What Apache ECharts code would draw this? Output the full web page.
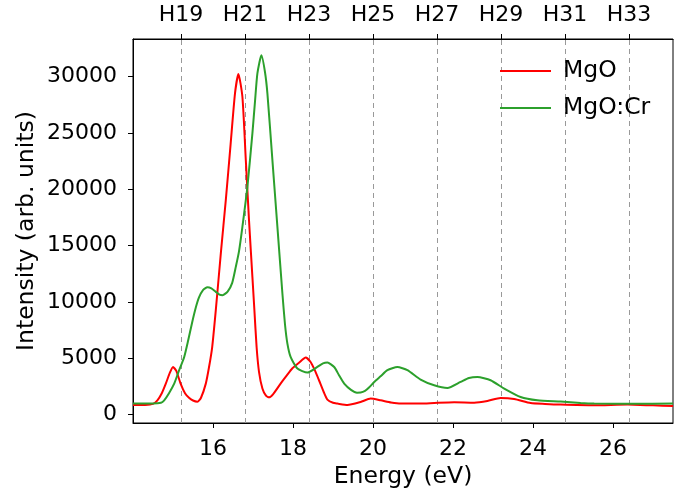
<!DOCTYPE html>
<html>
<head>
<meta charset="utf-8">
<script src="https://cdn.jsdelivr.net/npm/echarts@6/dist/echarts.min.js"></script>
<style>html,body{margin:0;padding:0;background:#fff}#c{width:690px;height:491px}</style>
</head>
<body>
<div id="c"></div>
<script>
// MgO (red)
var mgoE = [14.0,14.3,14.5,14.61,14.72,14.82,14.92,15.0,15.08,15.19,15.3,15.4,15.5,15.61,15.7,15.82,15.9,15.98,16.07,16.2,16.32,16.44,16.55,16.635,16.735,16.82,16.9,16.985,17.035,17.09,17.15,17.235,17.32,17.4,17.5,17.69,17.85,17.98,18.15,18.32,18.44,18.55,18.65,18.78,18.86,19.0,19.11,19.36,19.69,19.94,20.19,20.45,20.69,21.19,21.53,22.03,22.53,22.86,23.19,23.53,23.94,24.3,24.69,25.53,26.36,27.0,27.5];
var mgoI = [850,860,950,1270,1900,2750,3700,4230,3900,2750,1900,1500,1250,1150,1500,2750,4200,6000,9270,14500,19040,24000,28520,30240,28220,22600,17270,12230,9270,6000,3800,2310,1700,1530,1800,2750,3500,4090,4600,5060,4670,3900,3050,1900,1330,1050,980,850,1120,1420,1270,1080,980,980,1030,1090,1060,1210,1480,1390,1030,950,890,830,890,820,770];
// MgO:Cr (green)
var crE = [14.0,14.5,14.7,14.78,14.9,15.03,15.15,15.28,15.38,15.48,15.57,15.65,15.75,15.86,15.96,16.07,16.16,16.24,16.37,16.48,16.57,16.65,16.735,16.86,16.985,17.05,17.11,17.21,17.3,17.36,17.485,17.61,17.735,17.8,17.86,17.94,18.11,18.36,18.61,18.75,18.86,19.03,19.15,19.28,19.45,19.6,19.69,19.8,19.9,20.03,20.19,20.36,20.61,20.86,21.19,21.53,21.86,22.19,22.4,22.61,22.94,23.28,23.69,24.11,24.69,25.19,25.53,26.5,27.5];
var crI = [980,980,1050,1270,1900,2750,3900,5120,6600,8200,9500,10400,11050,11300,11200,10900,10650,10600,10950,11700,13120,14500,16670,20220,24970,27800,30300,31900,30400,28520,22600,16670,10750,8000,6300,5120,4090,3730,4230,4550,4620,4230,3500,2750,2200,1950,1960,2100,2400,2900,3400,3940,4230,3940,3110,2600,2360,2900,3250,3340,3050,2310,1560,1270,1155,1030,980,970,980];
// tick labels
var xTicks = [16,18,20,22,24,26];
var yTicks = [0,5000,10000,15000,20000,25000,30000];
var harmE = [15.2,16.8,18.4,20.0,21.6,23.2,24.8,26.4];
var harmLabels = ['H19','H21','H23','H25','H27','H29','H31','H33'];
var seriesNames = ['MgO','MgO:Cr'];

function pairs(xs, ys){ return xs.map(function(x,i){return [x, ys[i]];}); }
var FONT = 'DejaVu Sans';
var chart = echarts.init(document.getElementById('c'), null, {renderer:'canvas'});
chart.setOption({
  animation:false,
  backgroundColor:'#fff',
  grid:{left:133, right:17, top:39, bottom:68, show:true, borderColor:'#000', borderWidth:1, backgroundColor:'transparent', containLabel:false, outerBoundsMode:'none'},
  legend:{
    orient:'vertical', left:495, top:54, itemWidth:51, itemHeight:2, itemGap:13,
    icon:'rect',
    textStyle:{fontFamily:FONT, fontSize:23.5, color:'#000', padding:[0,0,0,7], lineHeight:24},
    data:seriesNames
  },
  xAxis:[{
    type:'value', min:14.0, max:27.5, position:'bottom',
    name:'Energy (eV)', nameLocation:'middle', nameGap:42, nameMoveOverlap:false,
    nameTextStyle:{fontFamily:FONT, fontSize:23.5, color:'#000'},
    axisLine:{show:true, onZero:false, lineStyle:{color:'#000', width:1}},
    axisTick:{show:true, inside:false, length:5, lineStyle:{color:'#000', width:1}, customValues:xTicks},
    axisLabel:{fontFamily:FONT, fontSize:22, color:'#000', margin:15, customValues:xTicks, formatter:function(v){return String(v);}},
    splitLine:{show:false}
  },{
    type:'value', min:14.0, max:27.5, position:'top',
    axisLine:{show:true, onZero:false, lineStyle:{color:'#000', width:1}},
    axisTick:{show:true, inside:false, length:5, lineStyle:{color:'#000', width:1}, customValues:harmE},
    axisLabel:{fontFamily:FONT, fontSize:22, color:'#000', margin:13, customValues:harmE,
      formatter:function(v){
        var best=0; for(var i=1;i<harmE.length;i++){ if(Math.abs(harmE[i]-v)<Math.abs(harmE[best]-v)) best=i; }
        return harmLabels[best];
      }},
    splitLine:{show:false}
  }],
  yAxis:{
    type:'value', min:-746, max:33350,
    name:'Intensity (arb. units)', nameLocation:'middle', nameGap:94, nameRotate:90, nameMoveOverlap:false,
    nameTextStyle:{fontFamily:FONT, fontSize:23.5, color:'#000'},
    axisLine:{show:true, onZero:false, lineStyle:{color:'#000', width:1}},
    axisTick:{show:true, inside:false, length:5, lineStyle:{color:'#000', width:1}, customValues:yTicks},
    axisLabel:{fontFamily:FONT, fontSize:22, color:'#000', margin:16, customValues:yTicks, formatter:function(v){return String(v);}},
    splitLine:{show:false}
  },
  series:[{
    name:seriesNames[0], type:'line', xAxisIndex:0, data:pairs(mgoE, mgoI),
    showSymbol:false, symbol:'none', smooth:0.2,
    lineStyle:{color:'#ff0000', width:2}, itemStyle:{color:'#ff0000'}, z:3,
    markLine:{
      silent:true, symbol:'none', label:{show:false}, z:1,
      lineStyle:{color:'#999', type:[5,4], width:1},
      data:harmE.map(function(e){return {xAxis:e};})
    }
  },{
    name:seriesNames[1], type:'line', xAxisIndex:0, data:pairs(crE, crI),
    showSymbol:false, symbol:'none', smooth:0.2,
    lineStyle:{color:'#2ca02c', width:2}, itemStyle:{color:'#2ca02c'}, z:4
  }]
});
</script>
</body>
</html>
